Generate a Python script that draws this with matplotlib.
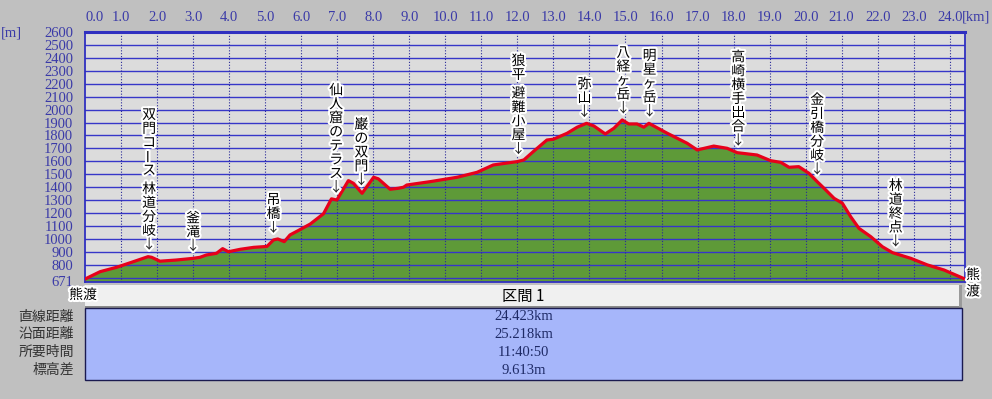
import numpy as np
import matplotlib
matplotlib.use('Agg')
import matplotlib.pyplot as plt
from matplotlib.patches import Rectangle
import matplotlib.patheffects as pe

plt.rcParams['font.family'] = ['Noto Sans CJK JP', 'DejaVu Sans']

# ---------------- data ----------------
dist_km = [0.0, 0.42, 0.88, 1.34, 1.75, 1.85, 2.08, 2.53, 3.0, 3.19, 3.37, 3.65,
           3.82, 3.98, 4.31, 4.68, 5.05, 5.23, 5.35, 5.53, 5.69, 5.92, 6.25, 6.62,
           6.84, 6.99, 7.31, 7.45, 7.69, 8.01, 8.14, 8.47, 8.70, 8.84, 8.93, 9.58,
           10.33, 10.88, 11.33, 12.0, 12.18, 12.44, 12.82, 13.0, 13.38, 13.66, 13.92,
           14.12, 14.44, 14.68, 14.91, 15.09, 15.32, 15.51, 15.65, 16.16, 16.71, 16.99,
           17.45, 17.82, 18.1, 18.65, 19.03, 19.31, 19.54, 19.81, 20.09, 20.32, 20.51,
           20.79, 21.02, 21.25, 21.48, 21.81, 22.13, 22.41, 22.92, 23.38, 23.84, 24.423]
elev_m = [690, 747, 781, 824, 863, 858, 828, 837, 850, 858, 876, 889,
          925, 901, 920, 935, 942, 992, 1000, 979, 1031, 1065, 1115, 1195,
          1310, 1301, 1451, 1430, 1353, 1477, 1465, 1384, 1392, 1400, 1417, 1443,
          1477, 1515, 1572, 1598, 1611, 1675, 1765, 1771, 1817, 1864, 1894,
          1874, 1812, 1856, 1920, 1889, 1889, 1864, 1894, 1817, 1740, 1688,
          1718, 1701, 1667, 1649, 1605, 1592, 1554, 1559, 1508, 1443, 1392,
          1314, 1276, 1172, 1082, 1017, 940, 894, 850, 799, 760, 690]

x_max = 24.423
y_min, y_max = 671, 2600
xtick_vals = list(range(0, 25))
ytick_vals = [671] + list(range(800, 2700, 100))

label_names = ['双門コース 林道分岐', '釜滝', '吊橋', '仙人窟のテラス', '巌の双門',
               '狼平 避難小屋', '弥山', '八経ヶ岳', '明星ヶ岳', '高崎横手出合',
               '金引橋分岐', '林道終点']
label_km = [1.78, 3.0, 5.23, 6.97, 7.67, 12.03, 13.86, 14.94, 15.67, 18.13, 20.32, 22.5]

end_name = '熊渡'
section_title = '区間 1'
row_labels = ['直線距離', '沿面距離', '所要時間', '標高差']
row_values = ['24.423km', '25.218km', '11:40:50', '9.613m']

# ---------------- figure ----------------
W, H = 992, 399
fig = plt.figure(figsize=(W / 100, H / 100), dpi=100, facecolor='#c0c0c0')


def fx(px):
    return px / W


def fy(py):
    return 1 - py / H


ax = fig.add_axes([fx(85), fy(281.5), fx(965) - fx(85), fy(32) - fy(281.5)])
ax.set_facecolor('#dcdcdc')
ax.set_xlim(0, x_max)
ax.set_ylim(y_min, y_max)

ax.fill_between(dist_km, elev_m, y_min, color='#5e9a38', lw=0, zorder=1)
for v in range(700, 2600, 100):
    ax.axhline(v, color='#3636c8', lw=1.0, zorder=2)
for v in xtick_vals[1:]:
    ax.axvline(v, color='#2a2a9a', lw=0.8, ls=(0, (1, 1.6)), zorder=2)
ax.plot(dist_km, elev_m, color='#e8001a', lw=2.3, zorder=3,
        solid_joinstyle='round', solid_capstyle='round')

for s in ax.spines.values():
    s.set_color('#3030c0')
    s.set_linewidth(1.3)
ax.spines['top'].set_linewidth(2.2)

ax.xaxis.tick_top()
ax.set_xticks(xtick_vals)
xl = ax.set_xticklabels([f'{v:.1f}' for v in xtick_vals],
                        fontfamily='Liberation Serif', fontsize=10.5, color='#3a3aa8')
xl[0].set_horizontalalignment('left')
ax.set_yticks(ytick_vals)
ax.set_yticklabels([str(v) for v in ytick_vals],
                   fontfamily='Liberation Serif', fontsize=10.5, color='#3a3aa8')
ax.tick_params(axis='x', length=0, pad=6)
ax.tick_params(axis='y', length=0, pad=8.5)

fig.text(fx(976), fy(17), '[km]', fontfamily='Liberation Serif', fontsize=10.5,
         color='#3a3aa8', ha='center', va='center')
fig.text(fx(11), fy(33), '[m]', fontfamily='Liberation Serif', fontsize=10.5,
         color='#3a3aa8', ha='center', va='center')

stroke = [pe.withStroke(linewidth=3, foreground='white')]
pitch = 10.0
for name, km in zip(label_names, label_km):
    y0 = float(np.interp(km, dist_km, elev_m))
    off = 8.8
    ax.annotate('↓', xy=(km, y0), xytext=(0, off), textcoords='offset points',
                ha='center', va='center', fontsize=10, color='#222222',
                path_effects=stroke, zorder=5, annotation_clip=False)
    for ch in reversed(name):
        if ch == ' ':
            off += 3.4
            continue
        off += pitch
        ax.annotate(ch, xy=(km, y0), xytext=(0, off), textcoords='offset points',
                    ha='center', va='center', fontsize=10, color='black',
                    rotation=90 if ch == 'ー' else 0,
                    path_effects=stroke, zorder=5, annotation_clip=False)

fig.text(fx(83), fy(295), end_name, fontsize=10, ha='center', va='center',
         color='black', path_effects=stroke)
for i, ch in enumerate(end_name):
    fig.text(fx(973), fy(275 + 16.5 * i), ch, fontsize=10, ha='center',
             va='center', color='black', path_effects=stroke)

# ---------------- table ----------------
def rect(x0, y0, x1, y1, **kw):
    fig.patches.append(Rectangle((fx(x0), fy(y1)), fx(x1) - fx(x0), fy(y0) - fy(y1),
                                 transform=fig.transFigure, **kw))


rect(85, 285, 962, 306, facecolor='#f0f0f0', edgecolor='none')
rect(85, 305.5, 962, 307.5, facecolor='#8a8a8a', edgecolor='none')
rect(959, 285, 962, 307, facecolor='#9a9a9a', edgecolor='none')
rect(85, 307.5, 962, 380, facecolor='#a6b6fa', edgecolor='#1a1a50', lw=1.0)

cx = (85 + 962) / 2
fig.text(fx(cx), fy(296), section_title, fontsize=11, ha='center', va='center',
         color='black')
row_y = [317, 334, 352, 370]
for lab, val, yy in zip(row_labels, row_values, row_y):
    fig.text(fx(74), fy(yy), lab, fontsize=10, ha='right', va='center', color='#333333')
    fig.text(fx(cx), fy(yy), val, fontsize=10.5, fontfamily='Liberation Serif',
             ha='center', va='center', color='#1e2a66')

fig.savefig('out.png', dpi=100, facecolor=fig.get_facecolor())
